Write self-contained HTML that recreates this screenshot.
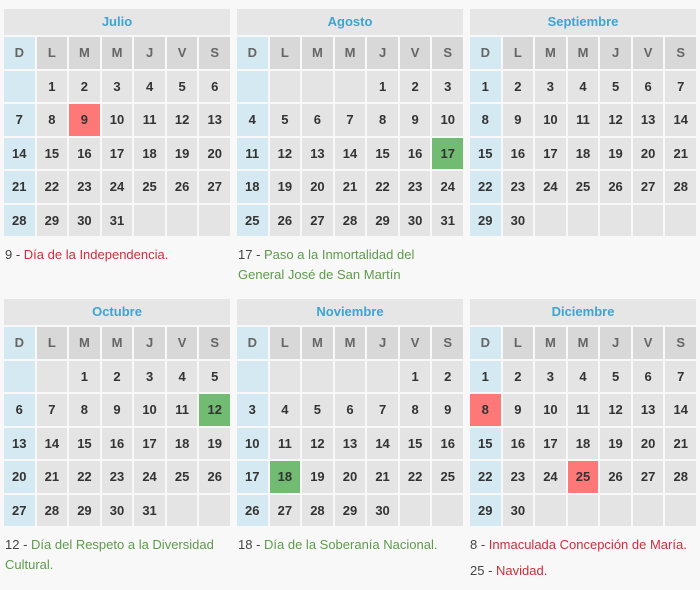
<!DOCTYPE html>
<html><head><meta charset="utf-8"><style>
html,body{margin:0;padding:0}
body{width:700px;height:590px;background:#f8f8f8;position:relative;overflow:hidden;font-family:"Liberation Sans",Arial,sans-serif}
.m{position:absolute;width:226px}
.t{height:26px;line-height:26px;background:#e6e6e6;text-align:center;color:#3ea4d2;font-weight:bold;font-size:13px}
.g{display:grid;grid-template-columns:repeat(7,1fr);column-gap:2px;row-gap:2px;margin-top:2px;grid-auto-rows:31.5px}
.g div{background:#e4e4e4;text-align:center;line-height:31.5px;font-weight:bold;font-size:13px;color:#333}
.g div.h{background:#d8d8d8;color:#666}
.g div:nth-child(7n+1){background:#d4e9f1}
.g div.r{background:#ff7878}
.g div.v{background:#72bb72}
.n{position:absolute;font-size:13px;line-height:20px;color:#444;white-space:nowrap}
.n .rd{color:#cc2e3c}
.n .gr{color:#5e9a4c}
</style></head><body>

<!-- Julio -->
<div class="m" style="left:4px;top:9px">
<div class="t">Julio</div>
<div class="g">
<div class="h">D</div><div class="h">L</div><div class="h">M</div><div class="h">M</div><div class="h">J</div><div class="h">V</div><div class="h">S</div>
<div></div><div>1</div><div>2</div><div>3</div><div>4</div><div>5</div><div>6</div>
<div>7</div><div>8</div><div class="r">9</div><div>10</div><div>11</div><div>12</div><div>13</div>
<div>14</div><div>15</div><div>16</div><div>17</div><div>18</div><div>19</div><div>20</div>
<div>21</div><div>22</div><div>23</div><div>24</div><div>25</div><div>26</div><div>27</div>
<div>28</div><div>29</div><div>30</div><div>31</div><div></div><div></div><div></div>
</div></div>

<!-- Agosto -->
<div class="m" style="left:237px;top:9px">
<div class="t">Agosto</div>
<div class="g">
<div class="h">D</div><div class="h">L</div><div class="h">M</div><div class="h">M</div><div class="h">J</div><div class="h">V</div><div class="h">S</div>
<div></div><div></div><div></div><div></div><div>1</div><div>2</div><div>3</div>
<div>4</div><div>5</div><div>6</div><div>7</div><div>8</div><div>9</div><div>10</div>
<div>11</div><div>12</div><div>13</div><div>14</div><div>15</div><div>16</div><div class="v">17</div>
<div>18</div><div>19</div><div>20</div><div>21</div><div>22</div><div>23</div><div>24</div>
<div>25</div><div>26</div><div>27</div><div>28</div><div>29</div><div>30</div><div>31</div>
</div></div>

<!-- Septiembre -->
<div class="m" style="left:470px;top:9px">
<div class="t">Septiembre</div>
<div class="g">
<div class="h">D</div><div class="h">L</div><div class="h">M</div><div class="h">M</div><div class="h">J</div><div class="h">V</div><div class="h">S</div>
<div>1</div><div>2</div><div>3</div><div>4</div><div>5</div><div>6</div><div>7</div>
<div>8</div><div>9</div><div>10</div><div>11</div><div>12</div><div>13</div><div>14</div>
<div>15</div><div>16</div><div>17</div><div>18</div><div>19</div><div>20</div><div>21</div>
<div>22</div><div>23</div><div>24</div><div>25</div><div>26</div><div>27</div><div>28</div>
<div>29</div><div>30</div><div></div><div></div><div></div><div></div><div></div>
</div></div>

<!-- Octubre -->
<div class="m" style="left:4px;top:299px">
<div class="t">Octubre</div>
<div class="g">
<div class="h">D</div><div class="h">L</div><div class="h">M</div><div class="h">M</div><div class="h">J</div><div class="h">V</div><div class="h">S</div>
<div></div><div></div><div>1</div><div>2</div><div>3</div><div>4</div><div>5</div>
<div>6</div><div>7</div><div>8</div><div>9</div><div>10</div><div>11</div><div class="v">12</div>
<div>13</div><div>14</div><div>15</div><div>16</div><div>17</div><div>18</div><div>19</div>
<div>20</div><div>21</div><div>22</div><div>23</div><div>24</div><div>25</div><div>26</div>
<div>27</div><div>28</div><div>29</div><div>30</div><div>31</div><div></div><div></div>
</div></div>

<!-- Noviembre -->
<div class="m" style="left:237px;top:299px">
<div class="t">Noviembre</div>
<div class="g">
<div class="h">D</div><div class="h">L</div><div class="h">M</div><div class="h">M</div><div class="h">J</div><div class="h">V</div><div class="h">S</div>
<div></div><div></div><div></div><div></div><div></div><div>1</div><div>2</div>
<div>3</div><div>4</div><div>5</div><div>6</div><div>7</div><div>8</div><div>9</div>
<div>10</div><div>11</div><div>12</div><div>13</div><div>14</div><div>15</div><div>16</div>
<div>17</div><div class="v">18</div><div>19</div><div>20</div><div>21</div><div>22</div><div>25</div>
<div>26</div><div>27</div><div>28</div><div>29</div><div>30</div><div></div><div></div>
</div></div>

<!-- Diciembre -->
<div class="m" style="left:470px;top:299px">
<div class="t">Diciembre</div>
<div class="g">
<div class="h">D</div><div class="h">L</div><div class="h">M</div><div class="h">M</div><div class="h">J</div><div class="h">V</div><div class="h">S</div>
<div>1</div><div>2</div><div>3</div><div>4</div><div>5</div><div>6</div><div>7</div>
<div class="r">8</div><div>9</div><div>10</div><div>11</div><div>12</div><div>13</div><div>14</div>
<div>15</div><div>16</div><div>17</div><div>18</div><div>19</div><div>20</div><div>21</div>
<div>22</div><div>23</div><div>24</div><div class="r">25</div><div>26</div><div>27</div><div>28</div>
<div>29</div><div>30</div><div></div><div></div><div></div><div></div><div></div>
</div></div>

<!-- Notes -->
<div class="n" style="left:5px;top:245px">9 - <span class="rd">Día de la Independencia.</span></div>
<div class="n" style="left:238px;top:245px">17 - <span class="gr">Paso a la Inmortalidad del<br>General José de San Martín</span></div>
<div class="n" style="left:5px;top:535px">12 - <span class="gr">Día del Respeto a la Diversidad<br>Cultural.</span></div>
<div class="n" style="left:238px;top:535px">18 - <span class="gr">Día de la Soberanía Nacional.</span></div>
<div class="n" style="left:470px;top:535px">8 - <span class="rd">Inmaculada Concepción de María.</span></div>
<div class="n" style="left:470px;top:561px">25 - <span class="rd">Navidad.</span></div>

</body></html>
